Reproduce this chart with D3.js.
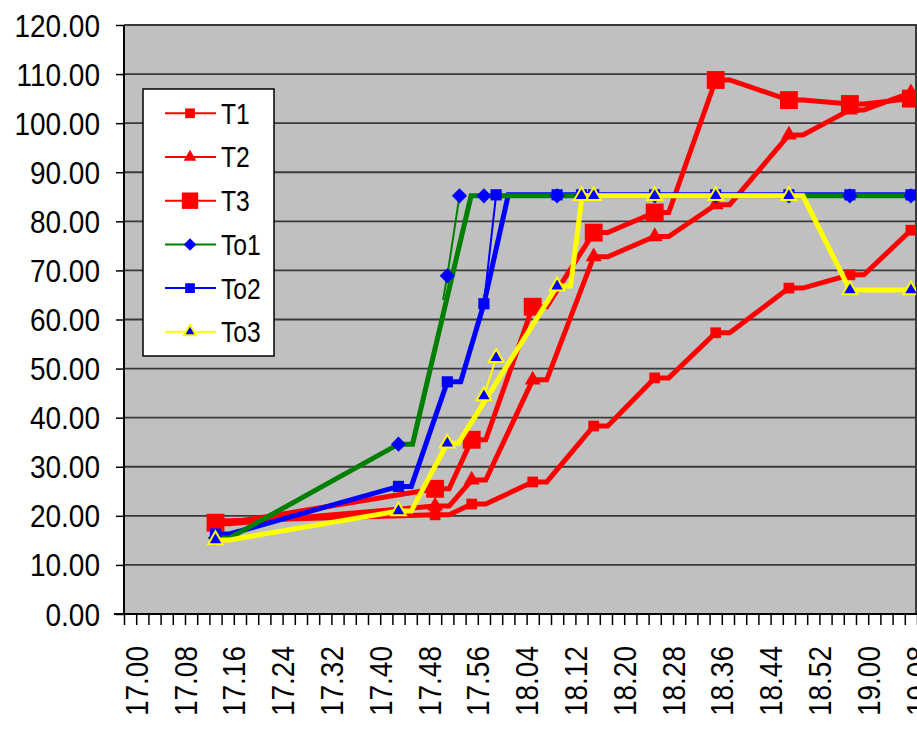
<!DOCTYPE html>
<html lang="en">
<head>
    <meta charset="UTF-8">
    <script type="text/javascript" src="https://cdn.jsdelivr.net/npm/d3@7/dist/d3.min.js"></script>
    <title>T / To</title>
    <style>
        body { margin: 0; background: #fff; }
        text { font-family: "Liberation Sans", Arial, sans-serif; fill: #000; }
    </style>
</head>
<body>
</body>
<script>

    // time = minutes after 17.00
    let seriesNames = ["T1", "T2", "T3", "To1", "To2", "To3"];

    let t1Times = [13, 49, 55, 65, 75, 85, 95, 107, 117, 127];
    let t1Values = [19.0, 20.2, 22.4, 26.9, 38.3, 48.1, 57.3, 66.4, 69.1, 78.2];

    let t2Times = [13, 49, 55, 65, 75, 85, 95, 107, 117, 127];
    let t2Values = [18.4, 22.0, 27.3, 47.7, 72.8, 76.9, 83.4, 97.6, 102.7, 106.2];

    let t3Times = [13, 49, 55, 65, 75, 85, 95, 107, 117, 127];
    let t3Values = [18.6, 25.5, 35.5, 62.6, 77.7, 81.8, 108.8, 104.7, 103.9, 105.0];

    let to1Times = [13, 43, 51, 53, 57, 69, 73, 85, 95, 107, 117, 127];
    let to1Values = [15.5, 34.6, 68.9, 85.2, 85.2, 85.2, 85.2, 85.2, 85.2, 85.2, 85.2, 85.2];
    // thick line of To1 and the thin piece that joins the jumped markers
    let to1LineTimes = [13, 15.3, 43, 45.3, 54.9, 129];
    let to1LineValues = [15.5, 15.5, 34.6, 34.6, 85.2, 85.2];
    let to1ThinTimes = [50.3, 51, 53];
    let to1ThinValues = [64.0, 68.9, 85.2];

    let to2Times = [13, 43, 51, 57, 59, 69, 73, 75, 85, 95, 107, 117, 127];
    let to2Values = [16.3, 26.0, 47.3, 63.2, 85.4, 85.4, 85.4, 85.4, 85.4, 85.4, 85.4, 85.4, 85.4];
    let to2LineTimes = [13, 15.3, 43, 45.1, 51, 53.2, 57, 61, 129];
    let to2LineValues = [16.3, 16.3, 26.0, 26.0, 47.3, 47.3, 63.2, 85.4, 85.4];
    let to2ThinTimes = [57, 59];
    let to2ThinValues = [63.2, 85.4];

    let to3Times = [13, 43, 51, 57, 59, 69, 73, 75, 85, 95, 107, 117, 127];
    let to3Values = [15.1, 21.0, 34.8, 44.4, 52.2, 66.8, 85.2, 85.2, 85.2, 85.2, 85.2, 66.0, 66.0];
    let to3LineTimes = [13, 15.3, 43, 45.1, 51, 52.8, 69, 71.2, 73.1, 109.3, 117, 129];
    let to3LineValues = [15.1, 15.1, 21.0, 21.0, 34.8, 34.8, 66.8, 66.8, 85.2, 85.2, 66.0, 66.0];
    let to3ThinTimes = [57, 59];
    let to3ThinValues = [44.4, 52.2];

    let yTicks = d3.range(0, 121, 10);
    let xMinorTicks = d3.range(-2, 129, 2);
    let xLabelTimes = d3.range(0, 129, 8);

    let width = 917, height = 733;
    let plot = {left: 124, right: 917, top: 25, bottom: 614};
    let HOLD = 2.3; // the lines stay flat a little after every reading

    let x = d3.scaleLinear().domain([-2, 128]).range([plot.left, plot.right]);
    let y = d3.scaleLinear().domain([0, 120]).range([plot.bottom, plot.top]);

    let svg = d3.select("body")
        .append("svg")
        .attr("width", width)
        .attr("height", height);

    svg.append("defs").append("clipPath").attr("id", "plotclip")
        .append("rect")
        .attr("x", plot.left).attr("y", plot.top - 12)
        .attr("width", plot.right - 1 - plot.left).attr("height", plot.bottom - plot.top + 12);

    svg.append("rect")
        .attr("x", plot.left).attr("y", plot.top)
        .attr("width", plot.right - plot.left).attr("height", plot.bottom - plot.top)
        .attr("fill", "#c0c0c0");

    // grid
    svg.append("g").selectAll("line")
        .data(yTicks.filter(d => d > 0))
        .join("line")
        .attr("x1", plot.left).attr("x2", plot.right)
        .attr("y1", d => y(d)).attr("y2", d => y(d))
        .attr("stroke", "#3a3a3a")
        .attr("stroke-width", 1.8);

    svg.append("line")
        .attr("x1", plot.right - 1).attr("x2", plot.right - 1)
        .attr("y1", plot.top).attr("y2", plot.bottom)
        .attr("stroke", "#3a3a3a").attr("stroke-width", 2);

    // y axis (labels drawn by hand so they can be squeezed like the original)
    let yAxis = svg.append("g")
        .attr("transform", `translate(${plot.left},0)`)
        .call(d3.axisLeft(y).tickValues(yTicks).tickSize(8).tickFormat(""));
    yAxis.select(".domain").remove();
    yAxis.selectAll("line").attr("stroke", "#000").attr("stroke-width", 1.5);

    svg.append("g").selectAll("text")
        .data(yTicks)
        .join("text")
        .attr("transform", d => `translate(100,${y(d)}) scale(0.875,1)`)
        .attr("text-anchor", "end")
        .attr("dy", "0.36em")
        .style("font-size", "32px")
        .text(d => d.toFixed(2));

    svg.append("line")
        .attr("x1", plot.left).attr("x2", plot.left)
        .attr("y1", plot.top).attr("y2", plot.bottom)
        .attr("stroke", "#000").attr("stroke-width", 2);

    // x axis
    let xAxis = svg.append("g")
        .attr("transform", `translate(0,${plot.bottom})`)
        .call(d3.axisBottom(x).tickValues(xMinorTicks).tickSize(11).tickSizeOuter(0).tickFormat(""));
    xAxis.select(".domain").remove();
    xAxis.selectAll("line").attr("stroke", "#000").attr("stroke-width", 1.5);
    svg.append("line")
        .attr("x1", 114).attr("x2", plot.right)
        .attr("y1", plot.bottom).attr("y2", plot.bottom)
        .attr("stroke", "#000").attr("stroke-width", 2);

    function timeLabel(m) {
        let h = 17 + Math.floor(m / 60);
        let mm = m % 60;
        return h + "." + (mm < 10 ? "0" : "") + mm;
    }

    svg.append("g").selectAll("text")
        .data(xLabelTimes)
        .join("text")
        .attr("transform", d => `translate(${x(d)},646) rotate(-90) scale(0.875,1)`)
        .attr("text-anchor", "end")
        .attr("dy", "0.36em")
        .style("font-size", "32px")
        .text(d => timeLabel(d));

    // series
    function pts(times, values) {
        return times.map((t, i) => [t, values[i]]);
    }

    function holdPts(times, values) {
        let out = [];
        times.forEach((t, i) => {
            out.push([t, values[i]]);
            out.push([t + HOLD, values[i]]);
        });
        return out;
    }

    let line = d3.line().x(d => x(d[0])).y(d => y(d[1]));

    let shapes = {
        square: d3.symbol().type(d3.symbolSquare),
        triangle: d3.symbol().type(d3.symbolTriangle),
        diamond: d3.symbol().type(d3.symbolSquare)
    };

    let series = [
        {name: "T1", color: "#ff0000", shape: "square", size: 115, legendSize: 95, fill: "#ff0000", stroke: "none",
            points: pts(t1Times, t1Values), thick: holdPts(t1Times, t1Values)},
        {name: "T2", color: "#ff0000", shape: "triangle", size: 110, legendSize: 70, fill: "#ff0000", stroke: "none",
            points: pts(t2Times, t2Values), thick: holdPts(t2Times, t2Values)},
        {name: "T3", color: "#ff0000", shape: "square", size: 320, legendSize: 270, fill: "#ff0000", stroke: "none",
            points: pts(t3Times, t3Values), thick: holdPts(t3Times, t3Values)},
        {name: "To1", color: "#008000", shape: "diamond", size: 115, legendSize: 78, fill: "#0000ff", stroke: "none",
            points: pts(to1Times, to1Values), thick: pts(to1LineTimes, to1LineValues), thin: pts(to1ThinTimes, to1ThinValues)},
        {name: "To2", color: "#0000ff", shape: "square", size: 125, legendSize: 95, fill: "#0000ff", stroke: "none",
            points: pts(to2Times, to2Values), thick: pts(to2LineTimes, to2LineValues), thin: pts(to2ThinTimes, to2ThinValues)},
        {name: "To3", color: "#ffff00", shape: "triangle", size: 95, legendSize: 65, fill: "#0000ff", stroke: "#ffff00",
            points: pts(to3Times, to3Values), thick: pts(to3LineTimes, to3LineValues), thin: pts(to3ThinTimes, to3ThinValues)}
    ];

    let byName = {};
    series.forEach(s => byName[s.name] = s);

    let plotG = svg.append("g").attr("clip-path", "url(#plotclip)");

    function drawLines(s) {
        plotG.append("path")
            .attr("d", line(s.thick))
            .attr("fill", "none")
            .attr("stroke", s.color)
            .attr("stroke-width", 5)
            .attr("stroke-linejoin", "miter");
        if (s.thin) {
            plotG.append("path")
                .attr("d", line(s.thin))
                .attr("fill", "none")
                .attr("stroke", s.color)
                .attr("stroke-width", 2);
        }
    }

    function markerPath(s, size) {
        return shapes[s.shape].size(size)();
    }

    function drawMarkers(s) {
        plotG.append("g").selectAll("path")
            .data(s.points)
            .join("path")
            .attr("d", markerPath(s, s.size))
            .attr("transform", d => `translate(${x(d[0])},${y(d[1])})` + (s.shape === "diamond" ? " rotate(45)" : ""))
            .attr("fill", s.fill)
            .attr("stroke", s.stroke)
            .attr("stroke-width", 2);
    }

    ["T1", "T2", "T3"].forEach(n => { drawLines(byName[n]); drawMarkers(byName[n]); });
    drawLines(byName.To2);
    drawLines(byName.To1);
    drawMarkers(byName.To1);
    drawMarkers(byName.To2);
    drawLines(byName.To3);
    drawMarkers(byName.To3);

    // legend
    let legend = svg.append("g");
    legend.append("rect")
        .attr("x", 143).attr("y", 89)
        .attr("width", 131).attr("height", 267)
        .attr("fill", "#fff")
        .attr("stroke", "#000")
        .attr("stroke-width", 1.5);

    let entry = legend.selectAll("g.entry")
        .data(series)
        .join("g")
        .attr("class", "entry")
        .attr("transform", (d, i) => `translate(0,${113.3 + i * 43.7})`);

    entry.append("line")
        .attr("x1", 165).attr("x2", 216)
        .attr("stroke", d => d.color)
        .attr("stroke-width", 2);

    entry.append("path")
        .attr("d", d => markerPath(d, d.legendSize))
        .attr("transform", d => "translate(190,0)" + (d.shape === "diamond" ? " rotate(45)" : ""))
        .attr("fill", d => d.fill)
        .attr("stroke", d => d.stroke)
        .attr("stroke-width", 2);

    entry.append("text")
        .attr("transform", "translate(221,0) scale(0.85,1)")
        .attr("dy", "0.36em")
        .style("font-size", "29px")
        .text(d => d.name);

</script>
</html>
